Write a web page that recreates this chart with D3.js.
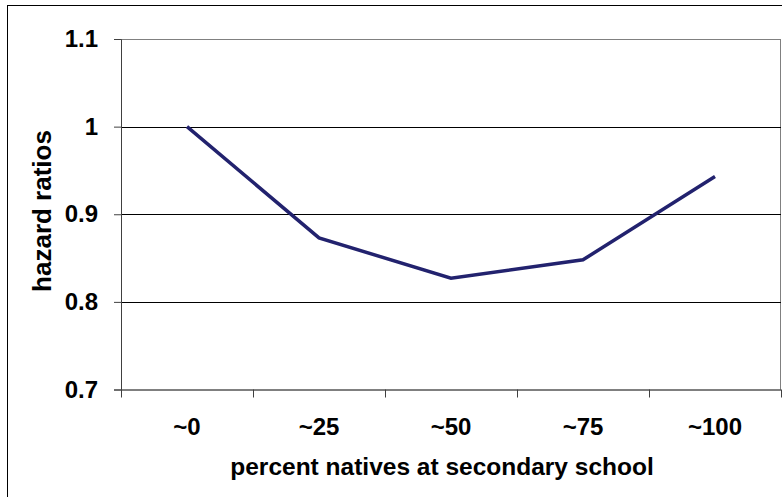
<!DOCTYPE html>
<html>
<head>
<meta charset="utf-8">
<script src="https://cdn.jsdelivr.net/npm/d3@7"></script>
<style>
  body { margin: 0; background: #fff; }
  svg { display: block; font-family: Arial, "Liberation Sans", sans-serif; font-weight: bold; }
</style>
</head>
<body>
<div id="chart"></div>
<script>
// data
const categories = ["~0", "~25", "~50", "~75", "~100"];
const hazardRatios = [1.0, 0.873, 0.827, 0.848, 0.943];
const yTicks = [0.7, 0.8, 0.9, 1.0, 1.1];

const width = 782, height = 497;
const margin = {top: 39, right: 1, bottom: 107.5, left: 121};
const w = width - margin.left - margin.right;
const h = height - margin.top - margin.bottom;

const svg = d3.select("#chart").append("svg")
  .attr("width", width)
  .attr("height", height);

// outer chart frame (runs off the right and bottom edges)
svg.append("rect")
  .attr("x", 7.5).attr("y", 5.5)
  .attr("width", 900).attr("height", 700)
  .attr("fill", "none")
  .attr("stroke", "#000");

const g = svg.append("g")
  .attr("transform", `translate(${margin.left},${margin.top})`);

const x = d3.scaleBand().domain(categories).range([0, w]);
const y = d3.scaleLinear().domain([0.7, 1.1]).range([h, 0]);

// plot area border
g.append("rect")
  .attr("x", 0.5).attr("y", 0.5)
  .attr("width", w - 1).attr("height", h)
  .attr("fill", "none")
  .attr("stroke", "#808080");

// gridlines
g.selectAll(".grid")
  .data(yTicks.filter(d => d > 0.7 && d < 1.1))
  .enter().append("line")
  .attr("class", "grid")
  .attr("x1", 0).attr("x2", w)
  .attr("y1", d => Math.round(y(d)) + 0.5)
  .attr("y2", d => Math.round(y(d)) + 0.5)
  .attr("stroke", "#000");

// y axis
const yAxis = g.append("g")
  .call(d3.axisLeft(y).tickValues(yTicks).tickSize(7).tickPadding(16)
    .tickFormat(d => d === 1 ? "1" : d3.format(".1f")(d)));
yAxis.select(".domain").attr("stroke", "#404040");
yAxis.selectAll(".tick line").attr("stroke", "#404040");
yAxis.selectAll("text")
  .attr("font-size", 24).attr("font-weight", "bold")
  .attr("font-family", "Arial, 'Liberation Sans', sans-serif")
  .attr("fill", "#000");

// x axis: ticks on band boundaries, labels at band centers
const xg = g.append("g").attr("transform", `translate(0,${h})`);
xg.append("line")
  .attr("x1", 0).attr("x2", w)
  .attr("y1", 0.5).attr("y2", 0.5)
  .attr("stroke", "#404040");
xg.selectAll(".xtick")
  .data(d3.range(categories.length + 1))
  .enter().append("line")
  .attr("class", "xtick")
  .attr("x1", i => Math.round(i * x.step()) + 0.5)
  .attr("x2", i => Math.round(i * x.step()) + 0.5)
  .attr("y1", 0).attr("y2", 8)
  .attr("stroke", "#404040");
xg.selectAll(".xlabel")
  .data(categories)
  .enter().append("text")
  .attr("class", "xlabel")
  .attr("x", d => x(d) + x.bandwidth() / 2)
  .attr("y", 45)
  .attr("text-anchor", "middle")
  .attr("font-size", 24)
  .text(d => d);

// line
const line = d3.line()
  .x((d, i) => x(categories[i]) + x.bandwidth() / 2)
  .y(d => y(d));

g.append("path")
  .datum(hazardRatios)
  .attr("d", line)
  .attr("fill", "none")
  .attr("stroke", "#22226e")
  .attr("stroke-width", 3.5);

// axis titles
svg.append("text")
  .attr("x", 442)
  .attr("y", 475)
  .attr("text-anchor", "middle")
  .attr("font-size", 24.5)
  .text("percent natives at secondary school");

svg.append("text")
  .attr("transform", "translate(51,211) rotate(-90)")
  .attr("text-anchor", "middle")
  .attr("font-size", 26)
  .text("hazard ratios");
</script>
</body>
</html>
